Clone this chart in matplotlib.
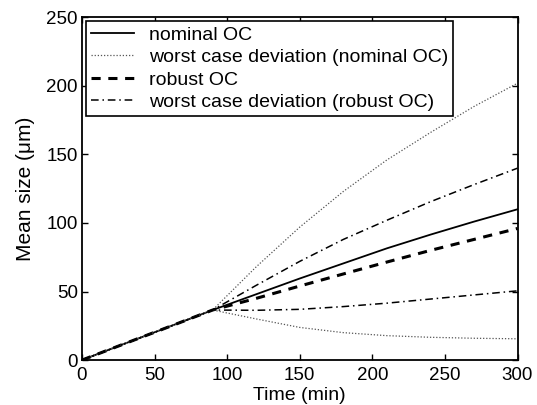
import matplotlib
matplotlib.use("Agg")
import matplotlib.pyplot as plt

plt.rcParams['font.family'] = ['Liberation Sans', 'DejaVu Sans']

t = [0, 30, 60, 90, 120, 150, 180, 210, 240, 270, 300]
nominal = [0, 12.2, 24.3, 36.5, 48, 59.5, 70.5, 81.5, 91.5, 101, 110]
worst_nom_up = [0, 12.2, 24.3, 36.5, 68, 97, 123, 146, 166, 185, 202]
worst_nom_lo = [0, 12.2, 24.3, 36.5, 30, 23.8, 20, 17.8, 16.6, 15.9, 15.5]
robust = [0, 12.2, 24.3, 36.5, 45, 54, 62.8, 71.5, 80, 88, 96]
worst_rob_up = [0, 12.2, 24.3, 36.5, 54.5, 72, 88, 102, 115.5, 128, 140]
worst_rob_lo = [0, 12.2, 24.3, 36.5, 36.3, 37, 39, 41.5, 44.5, 47.5, 50.5]

xticks = [0, 50, 100, 150, 200, 250, 300]
yticks = [0, 50, 100, 150, 200, 250]

fig = plt.figure(figsize=(5.37, 4.05), dpi=100)
ax = fig.add_axes([0.1527, 0.111, 0.811, 0.846])

ax.plot(t, nominal, color='black', lw=1.3, ls='-', label='nominal OC')
ax.plot(t, worst_nom_up, color='#555555', lw=0.9, ls=(0, (1, 1.5)),
        label='worst case deviation (nominal OC)')
ax.plot(t, robust, color='black', lw=2.2, ls=(0, (3, 2.5)), label='robust OC')
ax.plot(t, worst_rob_up, color='black', lw=1.1, ls=(0, (5, 2.5, 1, 2.5)),
        label='worst case deviation (robust OC)')
ax.plot(t, worst_nom_lo, color='#555555', lw=0.9, ls=(0, (1, 1.5)))
ax.plot(t, worst_rob_lo, color='black', lw=1.1, ls=(0, (5, 2.5, 1, 2.5)))

ax.set_xlim(0, 300)
ax.set_ylim(0, 250)
ax.set_xticks(xticks)
ax.set_yticks(yticks)
ax.tick_params(direction='in', top=True, right=True, labelsize=13.5, length=4,
               width=1)
ax.tick_params(axis='x', pad=5)
ax.tick_params(axis='y', pad=3)
for s in ax.spines.values():
    s.set_linewidth(1.3)
ax.set_xlabel('Time (min)', fontsize=14, labelpad=2.5)
ax.set_ylabel('Mean size (\u03bcm)', fontsize=15, labelpad=8)

leg = ax.legend(loc='upper left', fontsize=14, frameon=True, fancybox=False,
                edgecolor='black', framealpha=1, borderpad=0.25,
                labelspacing=0.25, handlelength=2.2, handletextpad=0.8,
                borderaxespad=0.2)
leg.get_frame().set_linewidth(1.2)

fig.savefig('out.png', dpi=100)
